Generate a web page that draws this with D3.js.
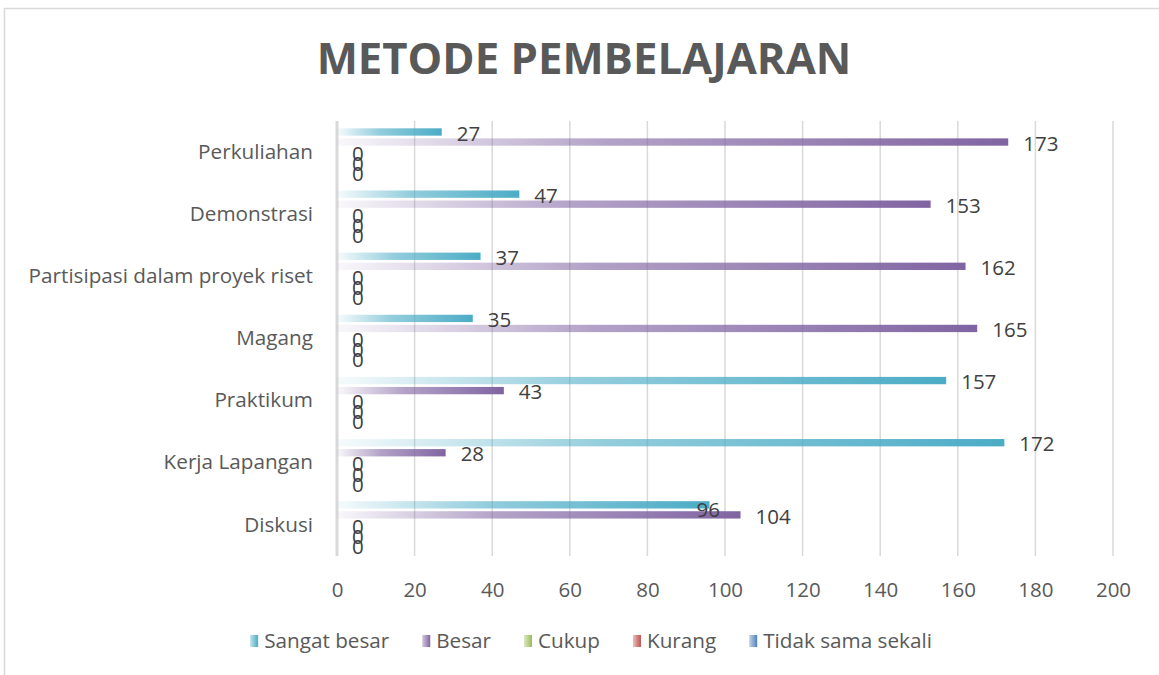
<!DOCTYPE html>
<html>
<head>
<meta charset="utf-8">
<script src="https://cdn.jsdelivr.net/npm/d3@7/dist/d3.min.js"></script>
<style>
  body{margin:0;background:#fff;}
  svg{display:block;font-family:"Open Sans",sans-serif;}
</style>
</head>
<body>
<svg id="chart" width="1159" height="675"></svg>
<script>
'use strict';

var categories=['Perkuliahan','Demonstrasi','Partisipasi dalam proyek riset','Magang','Praktikum','Kerja Lapangan','Diskusi'];
var series=['Sangat besar','Besar','Cukup','Kurang','Tidak sama sekali'];
var sangatBesar=[27,47,37,35,157,172,96];
var besar=[173,153,162,165,43,28,104];
var cukup=[0,0,0,0,0,0,0];
var kurang=[0,0,0,0,0,0,0];
var tidakSama=[0,0,0,0,0,0,0];
var xTicks=[0,20,40,60,80,100,120,140,160,180,200];
var colors=['#4bacc6','#8064a2','#9bbb59','#c0504d','#4f81bd'];

var values=[sangatBesar,besar,cukup,kurang,tidakSama];

var svg=d3.select('#chart');

// chart border
svg.append('rect')
    .attr('x',4.5).attr('y',8.5)
    .attr('width',1200).attr('height',700)
    .attr('fill','none').attr('stroke','#d9d9d9').attr('stroke-width',1.5);

var defs=svg.append('defs');
colors.forEach(function(c,i){
    var g=defs.append('linearGradient').attr('id','grad'+i)
        .attr('x1','0%').attr('x2','100%').attr('y1','0%').attr('y2','0%');
    g.append('stop').attr('offset','0%').attr('stop-color',c).attr('stop-opacity',0.05);
    g.append('stop').attr('offset','40%').attr('stop-color',c).attr('stop-opacity',0.6);
    g.append('stop').attr('offset','100%').attr('stop-color',c).attr('stop-opacity',1);
    var m=defs.append('linearGradient').attr('id','mark'+i)
        .attr('x1','0%').attr('x2','100%').attr('y1','0%').attr('y2','0%');
    m.append('stop').attr('offset','0%').attr('stop-color',c).attr('stop-opacity',0.35);
    m.append('stop').attr('offset','100%').attr('stop-color',c).attr('stop-opacity',1);
});

var x=d3.scaleLinear().domain([0,200]).range([337,1113]);
var y=d3.scaleBand().domain(categories).range([121,556]);
var inner=d3.scaleBand().domain(series)
    .range([(y.bandwidth()-47.5)/2,(y.bandwidth()+47.5)/2])
    .paddingInner(0.27);

// title
svg.append('text')
    .attr('x',584).attr('y',74)
    .attr('text-anchor','middle')
    .attr('font-size',43.7).attr('font-weight','bold')
    .attr('fill','#595959')
    .text('METODE PEMBELAJARAN');

// gridlines
svg.append('g').selectAll('line').data(xTicks).enter().append('line')
    .attr('x1',function(d){return x(d);}).attr('x2',function(d){return x(d);})
    .attr('y1',121).attr('y2',556)
    .attr('stroke','#d9d9d9')
    .attr('stroke-width',function(d){return d===0?3:1.5;});

// x axis labels
var xAxis=svg.append('g').attr('transform','translate(0,'+590+')')
    .call(d3.axisBottom(x).tickValues(xTicks).tickSize(0).tickPadding(0));
xAxis.select('.domain').remove();
xAxis.selectAll('text')
    .attr('font-family','"Open Sans",sans-serif')
    .attr('font-size',20.5).attr('fill','#595959')
    .attr('dy','0.35em');

// category labels
var yAxis=svg.append('g').attr('transform','translate(313,0)')
    .call(d3.axisLeft(y).tickSize(0).tickPadding(0));
yAxis.select('.domain').remove();
yAxis.selectAll('text')
    .attr('font-family','"Open Sans",sans-serif')
    .attr('font-size',20.7).attr('fill','#595959');

// bars
var rows=[];
categories.forEach(function(c,ci){
    series.forEach(function(s,si){
        rows.push({cat:c,ser:s,si:si,v:values[si][ci]});
    });
});

var bars=svg.append('g');
bars.selectAll('rect').data(rows.filter(function(d){return d.v>0;})).enter().append('rect')
    .attr('x',x(0))
    .attr('y',function(d){return y(d.cat)+inner(d.ser);})
    .attr('width',function(d){return x(d.v)-x(0);})
    .attr('height',inner.bandwidth())
    .attr('fill',function(d){return 'url(#grad'+d.si+')';});

// data labels (the "96" label was dragged a bit in the original)
var nudge={'Diskusi|Sangat besar':[-28,3]};
svg.append('g').selectAll('text').data(rows).enter().append('text')
    .attr('x',function(d){
        var n=nudge[d.cat+'|'+d.ser];
        return x(d.v)+15+(n?n[0]:0);
    })
    .attr('y',function(d){
        var n=nudge[d.cat+'|'+d.ser];
        return y(d.cat)+inner(d.ser)+inner.bandwidth()/2+1.5+(n?n[1]:0);
    })
    .attr('dy','0.35em')
    .attr('font-size',20.5).attr('fill','#404040')
    .text(function(d){return d.v;});

// legend
var legend=svg.append('g');
var lx=0;
series.forEach(function(s,i){
    var item=legend.append('g').attr('transform','translate('+lx+',0)');
    item.append('rect').attr('x',0).attr('y',-6).attr('width',8).attr('height',12)
        .attr('fill','url(#mark'+i+')');
    var t=item.append('text').attr('x',14).attr('y',0).attr('dy','0.35em')
        .attr('font-size',20.7).attr('fill','#595959').text(s);
    lx+=14+t.node().getComputedTextLength()+33;
});
lx-=33;
legend.attr('transform','translate('+(591-lx/2)+',641)');
</script>
</body>
</html>
